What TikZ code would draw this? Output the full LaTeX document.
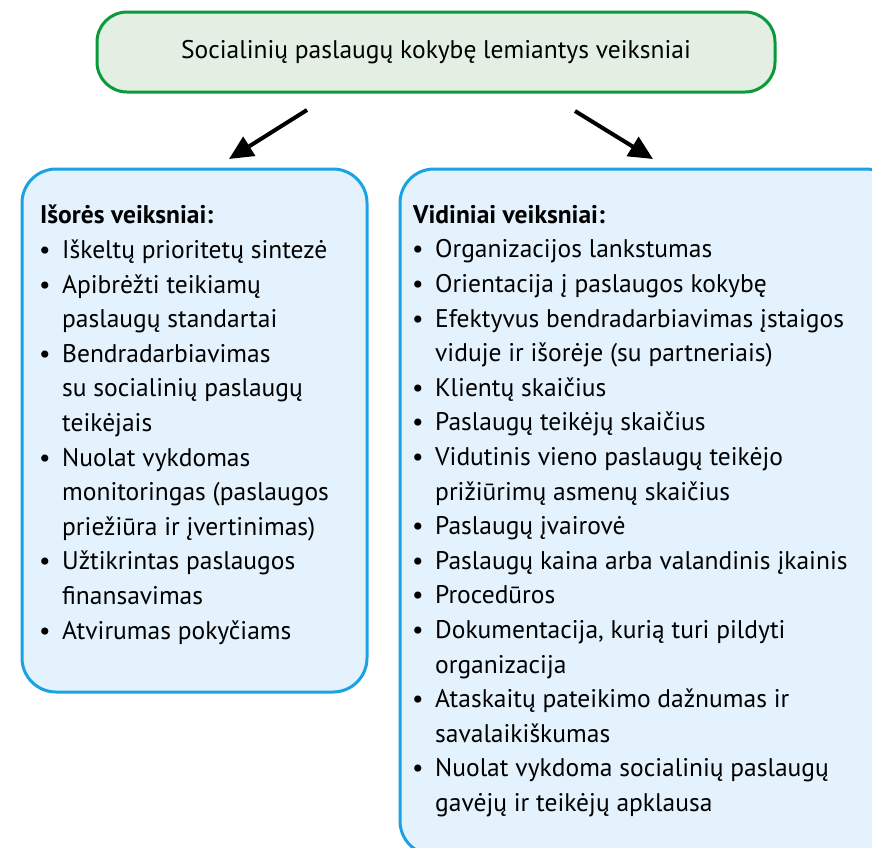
\documentclass[tikz,border=0pt]{standalone}
\usepackage{fontspec}
\setmainfont{PT Sans}
\usetikzlibrary{arrows.meta}
\definecolor{topfill}{HTML}{E2EFE2}
\definecolor{topline}{HTML}{0A9A3C}
\definecolor{boxfill}{HTML}{E3F2FC}
\definecolor{boxline}{HTML}{1AA3E3}
\newcommand\itm{\makebox[22pt][l]{\kern-1pt•}}
\newcommand\cnt{\hspace*{22pt}}
\begin{document}
\begin{tikzpicture}[x=1pt,y=-1pt,
  topbox/.style={draw=topline, fill=topfill, line width=3pt, rounded corners=30pt,
    font=\fontsize{25.5}{30}\selectfont},
  sidebox/.style={draw=boxline, fill=boxfill, line width=3pt, rounded corners=34pt},
  listtext/.style={anchor=north west, inner sep=0pt, align=left,
    font=\fontsize{25.5}{34.6}\selectfont},
  bigarrow/.style={line width=4pt, -{Triangle[length=24pt,width=22pt]}}]
\useasboundingbox (0,0) rectangle (872,847);
\clip (0,0) rectangle (872,847);

% heading box
\node[topbox, minimum width=678pt, minimum height=80pt] (top) at (436,52)
  {Socialinių paslaugų kokybę lemiantys veiksniai};

% the two groups of factors
\node[sidebox, minimum width=345pt, minimum height=523pt] (ext) at (194.5,430.5) {};
\node[sidebox, minimum width=500pt, minimum height=686pt] (int) at (650,512) {};

\node[listtext] (extlist) at (40,205) {%
  \textbf{Išorės veiksniai:}\\
  \itm Iškeltų prioritetų sintezė\\
  \itm Apibrėžti teikiamų\\
  \cnt paslaugų standartai\\
  \itm Bendradarbiavimas\\
  \cnt su socialinių paslaugų\\
  \cnt teikėjais\\
  \itm Nuolat vykdomas\\
  \cnt monitoringas (paslaugos\\
  \cnt priežiūra ir įvertinimas)\\
  \itm Užtikrintas paslaugos\\
  \cnt finansavimas\\
  \itm Atvirumas pokyčiams};

\node[listtext] (intlist) at (413,205) {%
  \textbf{Vidiniai veiksniai:}\\
  \itm Organizacijos lankstumas\\
  \itm Orientacija į paslaugos kokybę\\
  \itm Efektyvus bendradarbiavimas įstaigos\\
  \cnt viduje ir išorėje (su partneriais)\\
  \itm Klientų skaičius\\
  \itm Paslaugų teikėjų skaičius\\
  \itm Vidutinis vieno paslaugų teikėjo\\
  \cnt prižiūrimų asmenų skaičius\\
  \itm Paslaugų įvairovė\\
  \itm Paslaugų kaina arba valandinis įkainis\\
  \itm Procedūros\\
  \itm Dokumentacija, kurią turi pildyti\\
  \cnt organizacija\\
  \itm Ataskaitų pateikimo dažnumas ir\\
  \cnt savalaikiškumas\\
  \itm Nuolat vykdoma socialinių paslaugų\\
  \cnt gavėjų ir teikėjų apklausa};

% arrows from the heading down to each group
\coordinate (la) at (307,110);
\coordinate (lb) at (229,159);
\coordinate (ra) at (575,111);
\coordinate (rb) at (653,159);
\draw[bigarrow] (la) -- (lb);
\draw[bigarrow] (ra) -- (rb);
\end{tikzpicture}
\end{document}
